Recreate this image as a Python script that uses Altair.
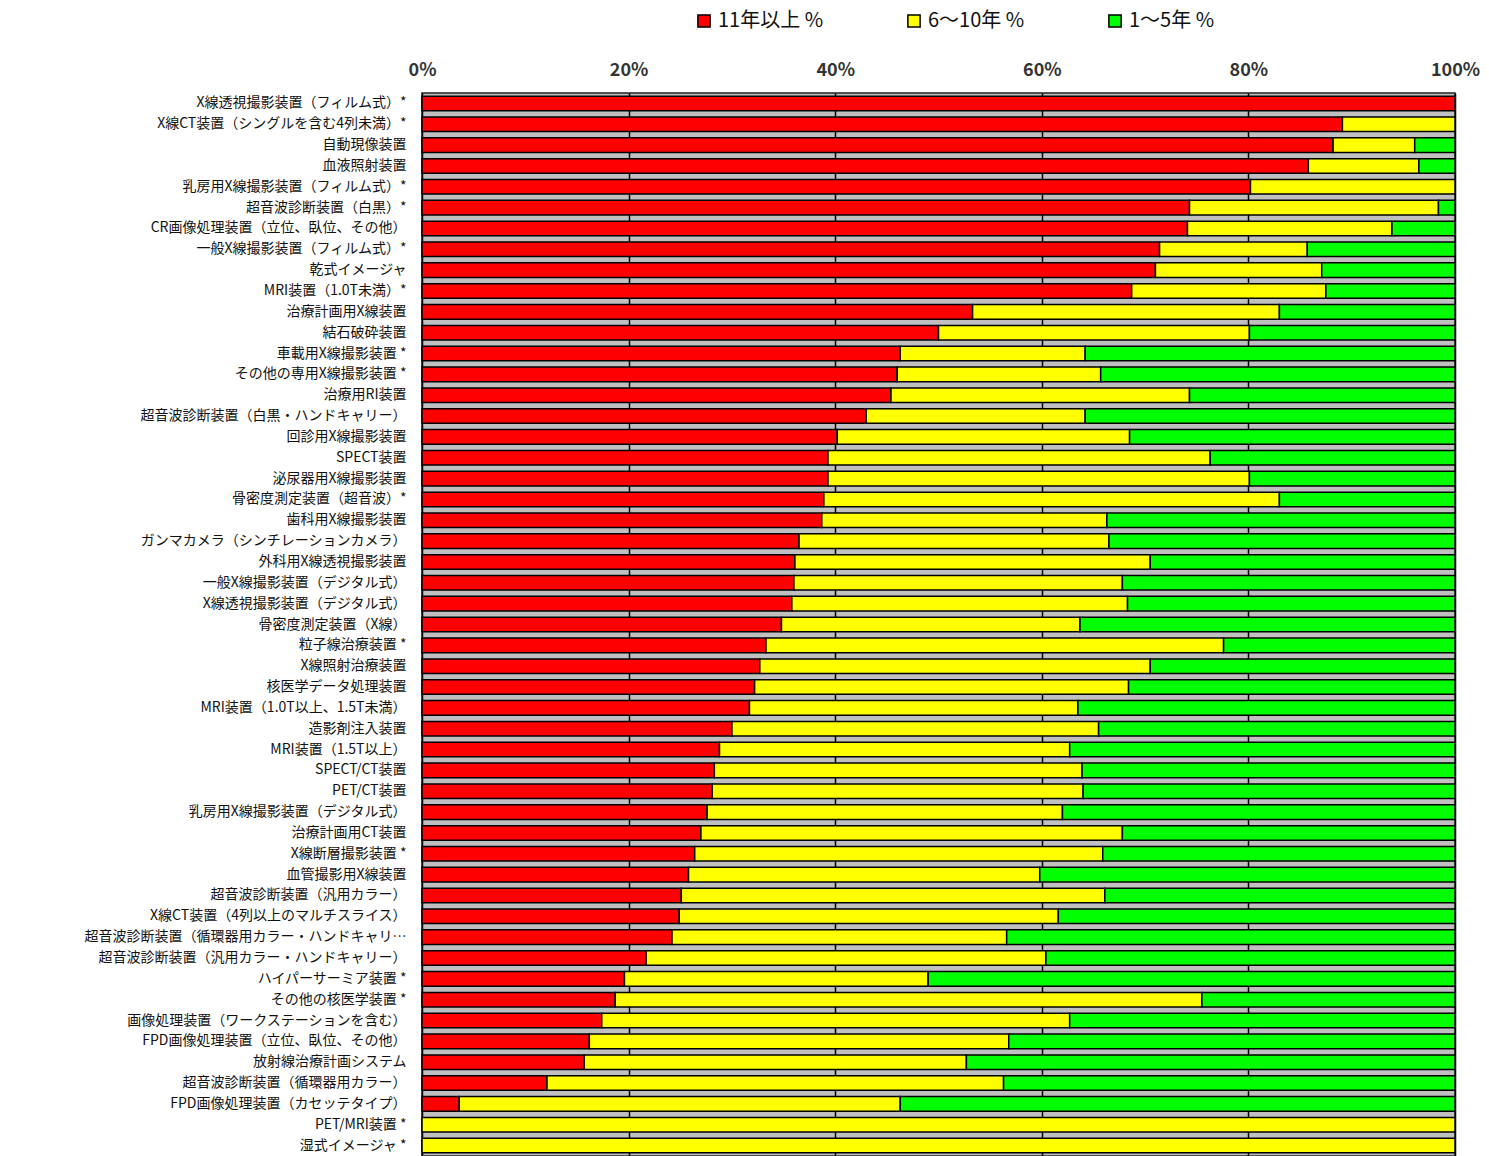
import altair as alt
import pandas as pd

# Equipment types, listed from the top row down
equipment = [
    "X線透視撮影装置（フィルム式）*",
    "X線CT装置（シングルを含む4列未満）*",
    "自動現像装置",
    "血液照射装置",
    "乳房用X線撮影装置（フィルム式）*",
    "超音波診断装置（白黒）*",
    "CR画像処理装置（立位、臥位、その他）",
    "一般X線撮影装置（フィルム式）*",
    "乾式イメージャ",
    "MRI装置（1.0T未満）*",
    "治療計画用X線装置",
    "結石破砕装置",
    "車載用X線撮影装置 *",
    "その他の専用X線撮影装置 *",
    "治療用RI装置",
    "超音波診断装置（白黒・ハンドキャリー）",
    "回診用X線撮影装置",
    "SPECT装置",
    "泌尿器用X線撮影装置",
    "骨密度測定装置（超音波）*",
    "歯科用X線撮影装置",
    "ガンマカメラ（シンチレーションカメラ）",
    "外科用X線透視撮影装置",
    "一般X線撮影装置（デジタル式）",
    "X線透視撮影装置（デジタル式）",
    "骨密度測定装置（X線）",
    "粒子線治療装置 *",
    "X線照射治療装置",
    "核医学データ処理装置",
    "MRI装置（1.0T以上、1.5T未満）",
    "造影剤注入装置",
    "MRI装置（1.5T以上）",
    "SPECT/CT装置",
    "PET/CT装置",
    "乳房用X線撮影装置（デジタル式）",
    "治療計画用CT装置",
    "X線断層撮影装置 *",
    "血管撮影用X線装置",
    "超音波診断装置（汎用カラー）",
    "X線CT装置（4列以上のマルチスライス）",
    "超音波診断装置（循環器用カラー・ハンドキャリー）",
    "超音波診断装置（汎用カラー・ハンドキャリー）",
    "ハイパーサーミア装置 *",
    "その他の核医学装置 *",
    "画像処理装置（ワークステーションを含む）",
    "FPD画像処理装置（立位、臥位、その他）",
    "放射線治療計画システム",
    "超音波診断装置（循環器用カラー）",
    "FPD画像処理装置（カセッテタイプ）",
    "PET/MRI装置 *",
    "湿式イメージャ *",
]

# Share of units by years in service (%)
over_11 = [
    100.0, 89.1, 88.2, 85.8, 80.2, 74.3, 74.1, 71.4, 71.0, 68.7,
    53.3, 50.0, 46.3, 46.0, 45.4, 43.0, 40.2, 39.3, 39.3, 38.9,
    38.7, 36.5, 36.1, 36.0, 35.8, 34.8, 33.3, 32.7, 32.2, 31.7,
    30.0, 28.8, 28.3, 28.1, 27.6, 27.0, 26.4, 25.8, 25.1, 24.9,
    24.2, 21.7, 19.6, 18.7, 17.4, 16.2, 15.7, 12.1, 3.6, 0.0,
    0.0,
]
y6_10 = [
    0.0, 10.9, 7.9, 10.7, 19.8, 24.1, 19.8, 14.3, 16.1, 18.8,
    29.7, 30.1, 17.9, 19.7, 28.9, 21.2, 28.3, 37.0, 40.8, 44.1,
    27.6, 30.0, 34.4, 31.8, 32.5, 28.9, 44.3, 37.8, 36.2, 31.8,
    35.5, 33.9, 35.6, 35.9, 34.4, 40.8, 39.5, 34.0, 41.0, 36.7,
    32.4, 38.7, 29.4, 56.8, 45.3, 40.6, 37.0, 44.2, 42.7, 100.0,
    100.0,
]
y1_5 = [
    0.0, 0.0, 3.9, 3.5, 0.0, 1.6, 6.1, 14.3, 12.9, 12.5,
    17.0, 19.9, 35.8, 34.3, 25.7, 35.8, 31.5, 23.7, 19.9, 17.0,
    33.7, 33.5, 29.5, 32.2, 31.7, 36.3, 22.4, 29.5, 31.6, 36.5,
    34.5, 37.3, 36.1, 36.0, 38.0, 32.2, 34.1, 40.2, 33.9, 38.4,
    43.4, 39.6, 51.0, 24.5, 37.3, 43.2, 47.3, 43.7, 53.7, 0.0,
    0.0,
]

series_names = ["11年以上 %", "6〜10年 %", "1〜5年 %"]
series_colors = ["#ff0000", "#ffff00", "#00ff00"]

rows = []
for i, name in enumerate(equipment):
    for k, vals in enumerate([over_11, y6_10, y1_5]):
        rows.append({"equipment": name, "series": series_names[k],
                     "order": k, "value": vals[i]})
df = pd.DataFrame(rows)

FONT = "Noto Sans CJK JP"

chart = (
    alt.Chart(df)
    .transform_filter(alt.datum.value > 0)
    .transform_calculate(share="datum.value / 100")
    .mark_bar(stroke="black", strokeWidth=1.5)
    .encode(
        x=alt.X(
            "share:Q",
            stack="zero",
            scale=alt.Scale(domain=[0, 1], nice=False, zero=True),
            axis=alt.Axis(
                orient="top",
                format=".0%",
                values=[0, 0.2, 0.4, 0.6, 0.8, 1.0],
                title=None,
                domain=False,
                ticks=False,
                grid=True,
                gridColor="#000000",
                gridWidth=1.5,
                gridOpacity=1,
                labelFont=FONT,
                labelFontSize=18,
                labelFontWeight="bold",
                labelColor="#333333",
                labelPadding=14,
                labelFlush=False,
            ),
        ),
        y=alt.Y(
            "equipment:N",
            sort=equipment,
            scale=alt.Scale(paddingInner=0.3, paddingOuter=0.15),
            axis=alt.Axis(
                title=None,
                domain=False,
                ticks=False,
                grid=False,
                labelFont=FONT,
                labelFontSize=14,
                labelColor="#111111",
                labelPadding=16,
                labelLimit=322,
            ),
        ),
        color=alt.Color(
            "series:N",
            sort=series_names,
            scale=alt.Scale(domain=series_names, range=series_colors),
            legend=alt.Legend(
                title=None,
                orient="none",
                direction="horizontal",
                legendX=272,
                legendY=-82,
                symbolType="square",
                symbolSize=150,
                symbolStrokeColor="black",
                symbolStrokeWidth=1.5,
                symbolOpacity=1,
                labelFont=FONT,
                labelFontSize=20,
                labelColor="#111111",
                labelOffset=4,
                columnPadding=80,
            ),
        ),
        order=alt.Order("order:Q"),
    )
    .properties(
        width=1033,
        height=1063,
        autosize=alt.AutoSizeParams(type="none"),
        padding={"left": 422, "top": 93, "right": 34, "bottom": 0},
        background="white",
    )
    .configure_view(fill="#c0c0c0", stroke="#222222", strokeWidth=1.5)
)

chart.save("out.html", embed_options={"renderer": "svg", "actions": False})
